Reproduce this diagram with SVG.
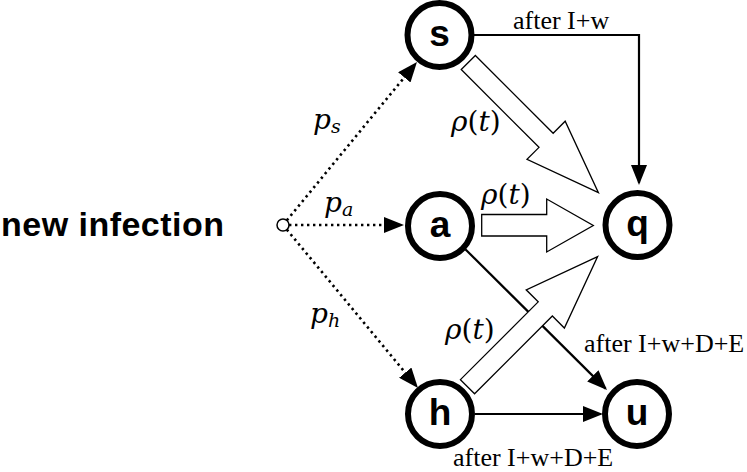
<svg xmlns="http://www.w3.org/2000/svg" width="747" height="472" viewBox="0 0 747 472">
<style>
.node circle{fill:#fff;stroke:#000;stroke-width:6}
.node text{font-family:"Liberation Sans",Arial,sans-serif;font-weight:bold;font-size:37px;text-anchor:middle;fill:#000}
.line{fill:none;stroke:#000;stroke-width:2.2}
.dot{fill:none;stroke:#000;stroke-width:2.6;stroke-dasharray:2.4 3.6}
.block{fill:#fff;stroke:#000;stroke-width:1.3;stroke-linejoin:miter}
.lbl{font-family:"Liberation Serif","Times New Roman",serif;font-size:26px;fill:#000}
.math{font-family:"DejaVu Serif","Liberation Serif",serif;font-size:28px;fill:#000}
.it{font-style:italic}
</style>
<defs>
<marker id="arr" viewBox="0 0 20 16" refX="18" refY="8" markerWidth="20" markerHeight="16" markerUnits="userSpaceOnUse" orient="auto">
<path d="M0,0 L20,8 L0,16 z" fill="#000"/>
</marker>
</defs>
<rect width="747" height="472" fill="#fff"/>
<text x="1" y="236" font-family="Liberation Sans,Arial,sans-serif" font-weight="bold" font-size="34" textLength="223" lengthAdjust="spacing">new infection</text>
<g id="connectors">
<circle cx="283" cy="225" r="6" fill="#fff" stroke="#000" stroke-width="1.5"/>
<path class="dot" d="M286.8,220.4 L415.7,63.5" marker-end="url(#arr)"/>
<path class="dot" d="M289,225 L402,225" marker-end="url(#arr)"/>
<path class="dot" d="M286.8,229.6 L416.7,386.5" marker-end="url(#arr)"/>
<path class="line" d="M474,35 H639 V183" marker-end="url(#arr)"/>
<path class="line" d="M475,414 H601" marker-end="url(#arr)"/>
<path class="line" d="M465.3,249.2 L605.6,388.6" marker-end="url(#arr)"/>
<polygon class="block" points="0,-10 110,-10 110,-27 184,0 110,27 110,10 0,10" transform="translate(468.3,62.5) rotate(45)"/>
<polygon class="block" points="481.7,214.5 546.7,214.5 546.7,199 593.3,225.5 546.7,252 546.7,236 481.7,236"/>
<polygon class="block" points="0,-10 110,-10 110,-27 184,0 110,27 110,10 0,10" transform="translate(467.5,386.7) rotate(-45)"/>
</g>
<g id="labels">
<text class="lbl" x="513" y="29">after I+w</text>
<text class="lbl" x="584" y="352">after I+w+D+E</text>
<text class="lbl" x="453" y="466">after I+w+D+E</text>
<text class="math" x="313" y="129"><tspan class="it">p</tspan><tspan class="it" font-size="19" dy="4">s</tspan></text>
<text class="math" x="324" y="212"><tspan class="it">p</tspan><tspan class="it" font-size="19" dy="4">a</tspan></text>
<text class="math" x="310" y="323"><tspan class="it">p</tspan><tspan class="it" font-size="19" dy="4">h</tspan></text>
<text class="math" x="451" y="131"><tspan class="it">ρ</tspan>(<tspan class="it">t</tspan>)</text>
<text class="math" x="481" y="204"><tspan class="it">ρ</tspan>(<tspan class="it">t</tspan>)</text>
<text class="math" x="445" y="339"><tspan class="it">ρ</tspan>(<tspan class="it">t</tspan>)</text>
</g>
<g id="node-s" class="node"><circle cx="439.5" cy="35" r="32"/><text x="439.5" y="46">s</text></g>
<g id="node-a" class="node"><circle cx="440" cy="226" r="32"/><text x="440" y="237">a</text></g>
<g id="node-q" class="node"><circle cx="637.5" cy="225" r="32"/><text x="637.5" y="236">q</text></g>
<g id="node-h" class="node"><circle cx="440" cy="414" r="32"/><text x="440" y="425">h</text></g>
<g id="node-u" class="node"><circle cx="637" cy="414" r="32"/><text x="637" y="425">u</text></g>
</svg>
